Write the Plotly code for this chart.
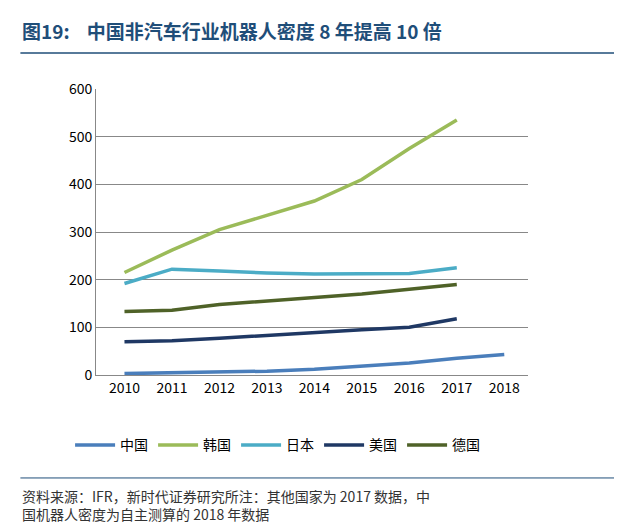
import plotly.graph_objects as go

years = ["2010", "2011", "2012", "2013", "2014", "2015", "2016", "2017", "2018"]
china = [3, 5, 6, 8, 12, 18, 25, 35, 43]
korea = [215, 262, 305, 335, 365, 410, 475, 535]
japan = [192, 222, 218, 214, 212, 213, 213, 225]
usa = [70, 72, 77, 83, 90, 95, 100, 118]
germany = [133, 136, 148, 155, 162, 170, 180, 190]

series = [
    ("中国", china, "#4A7EBB"),
    ("韩国", korea, "#9BBB59"),
    ("日本", japan, "#4BACC6"),
    ("美国", usa, "#1F3864"),
    ("德国", germany, "#4F6228"),
]

fig = go.Figure()
for name, vals, color in series:
    fig.add_trace(go.Scatter(x=years[:len(vals)], y=vals, name=name, mode="lines",
                             line=dict(color=color, width=3.5)))

font = "Noto Sans CJK SC"
fig.update_layout(
    width=622, height=531,
    paper_bgcolor="white", plot_bgcolor="white",
    margin=dict(l=88, r=102, t=81, b=164),
    font=dict(family=font, size=14, color="#000"),
    showlegend=True,
    legend=dict(orientation="h", x=-0.06, y=-0.19, xanchor="left", yanchor="top",
                font=dict(size=14), itemwidth=40),
    xaxis=dict(type="category", showline=True, linecolor="#888", ticks="",
               range=[-0.6, 8.5], tickfont=dict(size=14)),
    yaxis=dict(range=[0, 600], dtick=100, showline=True, linecolor="#888",
               gridcolor="#888", gridwidth=1, tickfont=dict(size=14), zeroline=False),
    annotations=[
        dict(text="<b>图19:    中国非汽车行业机器人密度 8 年提高 10 倍</b>", xref="paper", yref="paper",
             x=-0.175, y=1.206, xanchor="left", yanchor="middle", showarrow=False,
             font=dict(size=19, color="#1F4E79", family="Noto Sans CJK SC")),
        dict(text="资料来源：IFR，新时代证券研究所注：其他国家为 2017 数据，中<br>国机器人密度为自主测算的 2018 年数据",
             xref="paper", yref="paper", x=-0.175, y=-0.38, xanchor="left", yanchor="top",
             align="left", showarrow=False, font=dict(size=14, color="#333")),
    ],
    shapes=[
        dict(type="line", xref="paper", yref="paper", x0=-0.175, x1=1.2, y0=1.126, y1=1.126,
             line=dict(color="#1F4E79", width=1.5)),
        dict(type="line", xref="paper", yref="paper", x0=-0.175, x1=1.2, y0=-0.36, y1=-0.36,
             line=dict(color="#1F4E79", width=1)),
    ],
)

fig.write_html("out.html")
